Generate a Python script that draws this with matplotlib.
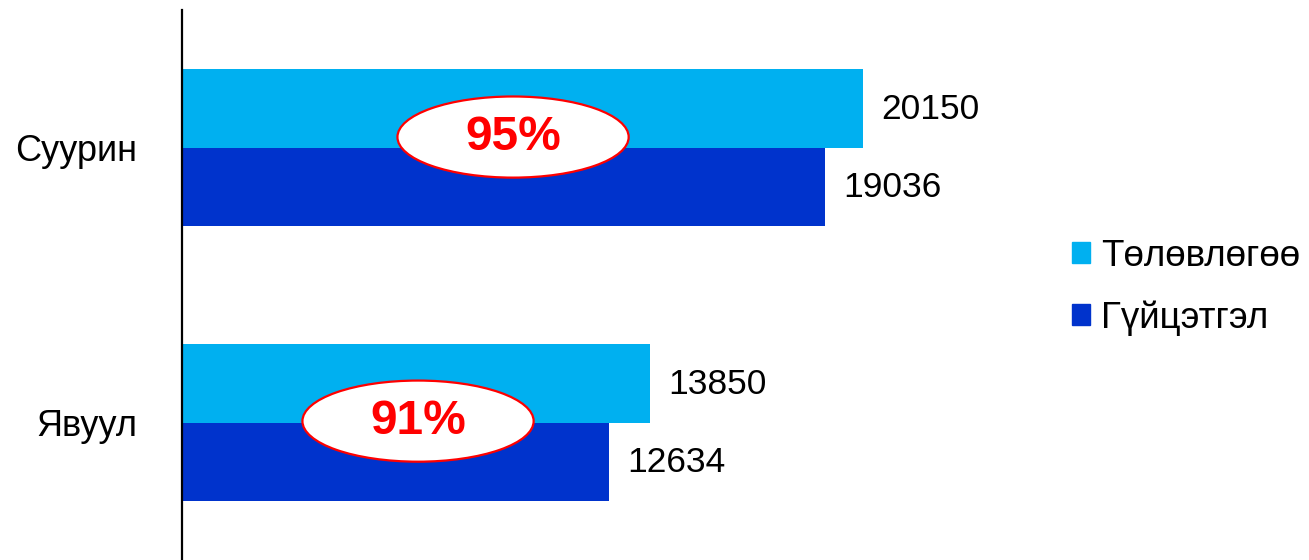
import matplotlib
matplotlib.use('Agg')
import matplotlib.pyplot as plt
from matplotlib.patches import Ellipse, Patch

plt.rcParams['font.family'] = ['Liberation Sans', 'DejaVu Sans']

categories = ['Явуул', 'Суурин']
plan = [13850, 20150]
actual = [12634, 19036]
percent_labels = ['91%', '95%']
series_names = ['Төлөвлөгөө', 'Гүйцэтгэл']
plan_color = '#00B0F0'
actual_color = '#0033CC'

W, H = 1309, 560
fig = plt.figure(figsize=(W / 100, H / 100), dpi=100)
ax = fig.add_axes([182 / W, 0, (1000 - 182) / W, 550 / H])

bh = 0.284
ypos = list(range(len(categories)))
ax.barh([y + bh / 2 for y in ypos], plan, height=bh, color=plan_color)
ax.barh([y - bh / 2 for y in ypos], actual, height=bh, color=actual_color)

for y, p, a in zip(ypos, plan, actual):
    ax.annotate(str(p), (p, y + bh / 2), xytext=(13, -1), textcoords='offset points',
                ha='left', va='center', fontsize=25.5)
    ax.annotate(str(a), (a, y - bh / 2), xytext=(13, -1), textcoords='offset points',
                ha='left', va='center', fontsize=25.5)

# percent badges
badge_x = [6983, 9794]
badge_dy = [0.005, 0.038]
for y, lab, bx, dy in zip(ypos, percent_labels, badge_x, badge_dy):
    ax.add_patch(Ellipse((bx, y + dy), 6840, 0.295, facecolor='white',
                         edgecolor='#FF0000', lw=1.6, zorder=3))
    ax.text(bx, y + dy, lab, color='#FF0000', fontsize=34.5, fontweight='bold',
            ha='center', va='center', zorder=4)

ax.set_xlim(0, 24200)
ax.set_ylim(-0.5, 1.5)
ax.set_yticks(ypos)
ax.set_yticklabels(categories, fontsize=26)
ax.tick_params(axis='y', length=0, pad=32)
ax.set_xticks([])
for s in ['top', 'right', 'bottom']:
    ax.spines[s].set_visible(False)
ax.spines['left'].set_linewidth(1.6)
ax.spines['left'].set_color('black')

handles = [Patch(color=plan_color), Patch(color=actual_color)]
fig.legend(handles, series_names, loc='center left', bbox_to_anchor=(1054 / W, 1 - 287 / H),
           frameon=False, fontsize=26.5, handlelength=0.48, handleheight=0.48,
           handletextpad=0.3, labelspacing=0.72, borderpad=0)

fig.savefig('out.png', dpi=100)
